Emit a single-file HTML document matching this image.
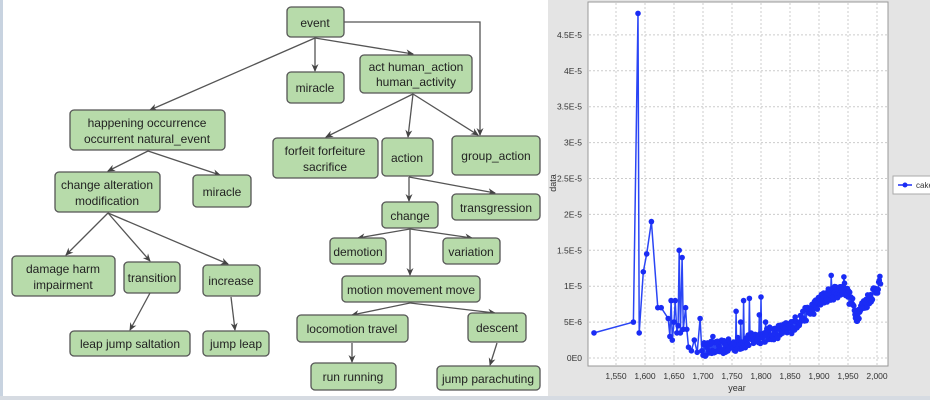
<!DOCTYPE html>
<html><head><meta charset="utf-8"><style>
html,body{margin:0;padding:0;background:#fff;width:930px;height:400px;overflow:hidden;font-family:"Liberation Sans",sans-serif}
</style></head><body>
<svg id="s" width="930" height="400" xmlns="http://www.w3.org/2000/svg" font-family="Liberation Sans, sans-serif">
<defs>
<marker id="a" markerWidth="8" markerHeight="8" refX="7" refY="4" orient="auto" markerUnits="userSpaceOnUse"><path d="M0,0.5 L8,4 L0,7.5 L2.5,4 z" fill="#444"/></marker>
<marker id="d" markerWidth="7" markerHeight="7" refX="3.5" refY="3.5" markerUnits="userSpaceOnUse"><circle cx="3.5" cy="3.5" r="2.8" fill="#1a2cf5"/></marker>
</defs>
<rect x="0" y="0" width="3" height="400" fill="#c8d3e0"/>
<rect x="0" y="396" width="930" height="4" fill="#d6dbe2"/>
<g stroke="#555" stroke-width="1.3" fill="none" marker-end="url(#a)">
<line x1="315" y1="38" x2="150" y2="110"/>
<line x1="315" y1="38" x2="315" y2="71"/>
<line x1="315" y1="38" x2="413" y2="54"/>
<polyline points="344,22 480,22 480,135"/>
<line x1="413" y1="94" x2="326" y2="137"/>
<line x1="413" y1="94" x2="408" y2="137"/>
<line x1="413" y1="94" x2="478" y2="135"/>
<line x1="148" y1="151" x2="108" y2="171"/>
<line x1="148" y1="151" x2="220" y2="175"/>
<line x1="108" y1="213" x2="66" y2="255"/>
<line x1="108" y1="213" x2="150" y2="261"/>
<line x1="108" y1="213" x2="228" y2="264"/>
<line x1="150" y1="293" x2="130" y2="330"/>
<line x1="231" y1="297" x2="235" y2="330"/>
<line x1="409" y1="177" x2="409" y2="201"/>
<line x1="409" y1="177" x2="495" y2="193"/>
<line x1="410" y1="229" x2="358" y2="238"/>
<line x1="410" y1="229" x2="472" y2="238"/>
<line x1="410" y1="229" x2="410" y2="275"/>
<line x1="410" y1="303" x2="352" y2="315"/>
<line x1="410" y1="303" x2="495" y2="313"/>
<line x1="352" y1="343" x2="352" y2="362"/>
<line x1="497" y1="343" x2="490" y2="365"/>
</g>
<g fill="#b7dbaa" stroke="#555" stroke-width="1.3">
<rect x="287" y="7" width="57" height="30" rx="4"/>
<rect x="287" y="72" width="57" height="31" rx="4"/>
<rect x="360" y="55" width="112" height="38" rx="4"/>
<rect x="70" y="110" width="155" height="40" rx="4"/>
<rect x="273" y="138" width="105" height="40" rx="4"/>
<rect x="382" y="138" width="51" height="38" rx="4"/>
<rect x="452" y="136" width="88" height="39" rx="4"/>
<rect x="55" y="172" width="105" height="40" rx="4"/>
<rect x="193" y="175" width="58" height="32" rx="4"/>
<rect x="452" y="194" width="88" height="26" rx="4"/>
<rect x="382" y="202" width="56" height="26" rx="4"/>
<rect x="330" y="238" width="56" height="26" rx="4"/>
<rect x="443" y="238" width="57" height="26" rx="4"/>
<rect x="12" y="256" width="103" height="40" rx="4"/>
<rect x="124" y="262" width="56" height="31" rx="4"/>
<rect x="203" y="265" width="57" height="31" rx="4"/>
<rect x="342" y="276" width="138" height="26" rx="4"/>
<rect x="297" y="315" width="111" height="27" rx="4"/>
<rect x="468" y="313" width="58" height="29" rx="4"/>
<rect x="70" y="331" width="120" height="25" rx="4"/>
<rect x="203" y="331" width="66" height="25" rx="4"/>
<rect x="311" y="363" width="85" height="27" rx="4"/>
<rect x="437" y="366" width="103" height="24" rx="4"/>
</g>
<g font-size="12" fill="#222" text-anchor="middle">
<text x="315" y="27">event</text>
<text x="315" y="92">miracle</text>
<text x="416" y="71">act human_action</text><text x="416" y="86">human_activity</text>
<text x="147" y="127">happening occurrence</text><text x="147" y="143">occurrent natural_event</text>
<text x="325" y="155">forfeit forfeiture</text><text x="325" y="171">sacrifice</text>
<text x="407" y="162">action</text>
<text x="496" y="160">group_action</text>
<text x="107" y="189">change alteration</text><text x="107" y="205">modification</text>
<text x="222" y="196">miracle</text>
<text x="496" y="212">transgression</text>
<text x="410" y="220">change</text>
<text x="358" y="256">demotion</text>
<text x="471" y="256">variation</text>
<text x="63" y="273">damage harm</text><text x="63" y="289">impairment</text>
<text x="152" y="282">transition</text>
<text x="231" y="285">increase</text>
<text x="411" y="294">motion movement move</text>
<text x="352" y="333">locomotion travel</text>
<text x="497" y="332">descent</text>
<text x="130" y="348">leap jump saltation</text>
<text x="236" y="348">jump leap</text>
<text x="353" y="381">run running</text>
<text x="488" y="383">jump parachuting</text>
</g>
<rect x="548" y="0" width="382" height="396" fill="#e4e4e4"/>
<rect x="588" y="2" width="300" height="364" fill="#fff" stroke="#999"/>
<g id="grid" stroke="#ccc" stroke-dasharray="2,2" stroke-width="1"></g>
<g id="lab" font-size="8.5" fill="#333"></g>
<text x="737" y="391" font-size="9" fill="#333" text-anchor="middle">year</text>
<text x="556" y="183" font-size="9" fill="#333" text-anchor="middle" transform="rotate(-90 556 183)">data</text>
<rect x="893" y="176" width="40" height="18" fill="#fff" stroke="#aaa"/>
<line x1="898" y1="185" x2="912" y2="185" stroke="#1a2cf5" stroke-width="1.5"/><circle cx="905" cy="185" r="2.5" fill="#1a2cf5"/>
<text x="916" y="188" font-size="8" fill="#333">cake</text>
<polyline id="p" fill="none" stroke="#2a45f5" stroke-width="1.5" marker-start="url(#d)" marker-mid="url(#d)" marker-end="url(#d)"/>
</svg>
<script>
var X=function(y){return 616+(y-1550)*0.58},Y=function(v){return 358-v*7.18};
var g=document.getElementById('grid'),l=document.getElementById('lab'),ns='http://www.w3.org/2000/svg';
function el(p,t,a,txt){var e=document.createElementNS(ns,t);for(var k in a)e.setAttribute(k,a[k]);if(txt)e.textContent=txt;p.appendChild(e);}
var yl=['0E0','5E-6','1E-5','1.5E-5','2E-5','2.5E-5','3E-5','3.5E-5','4E-5','4.5E-5'];
for(var i=0;i<10;i++){var y=Y(i*5);el(g,'line',{x1:589,x2:887,y1:y,y2:y});el(l,'text',{x:582,y:y+3,'text-anchor':'end'},yl[i]);}
for(var yr=1550;yr<=2000;yr+=50){var x=X(yr);el(g,'line',{x1:x,x2:x,y1:3,y2:365});el(l,'text',{x:x,y:379,'text-anchor':'middle'},(''+yr).replace(/^(\d)/,'$1,'));}
var pts=[[1512,3.5],[1580,5],[1588,48],[1590,3.5],[1597,12],[1603,14.5],[1611,19],[1622,7],[1628,7],[1640,5.5],[1643,3],[1645,8],[1647,2.5],[1650,5],[1652,8],[1655,3.5],[1657,4.5],[1659,15],[1661,3.5],[1664,14],[1666,4],[1670,7],[1672,4],[1675,1.5],[1680,1],[1685,2.5],[1690,0.8],[1695,5.5],[1698,1]];
var s=12345;function r(){s=(s*16807)%2147483647;return s/2147483647;}
function base(y){if(y<1750)return 1.2+(y-1700)*0.01;if(y<1850)return 1.7+(y-1750)*0.025;if(y<1915)return 4.2+(y-1850)*0.07;if(y<1945)return 8.8+(y-1915)*0.03;if(y<1965)return 9.7-(y-1945)*0.18;return 6+(y-1965)*0.11;}
var sp={1717:3,1737:2,1757:6.5,1765:5,1770:8,1780:8.3,1797:6,1800:8.5,1808:5,1921:11.5,1943:11.3};
for(var y=1700;y<=2006;y+=1){var v=base(y)+(r()-0.5)*2;if(sp[y])v=sp[y];if(v<0.2)v=0.2;pts.push([y,v]);}
document.getElementById('p').setAttribute('points',pts.map(function(p){return X(p[0]).toFixed(1)+','+Y(p[1]).toFixed(1)}).join(' '));
</script>
</body></html>
